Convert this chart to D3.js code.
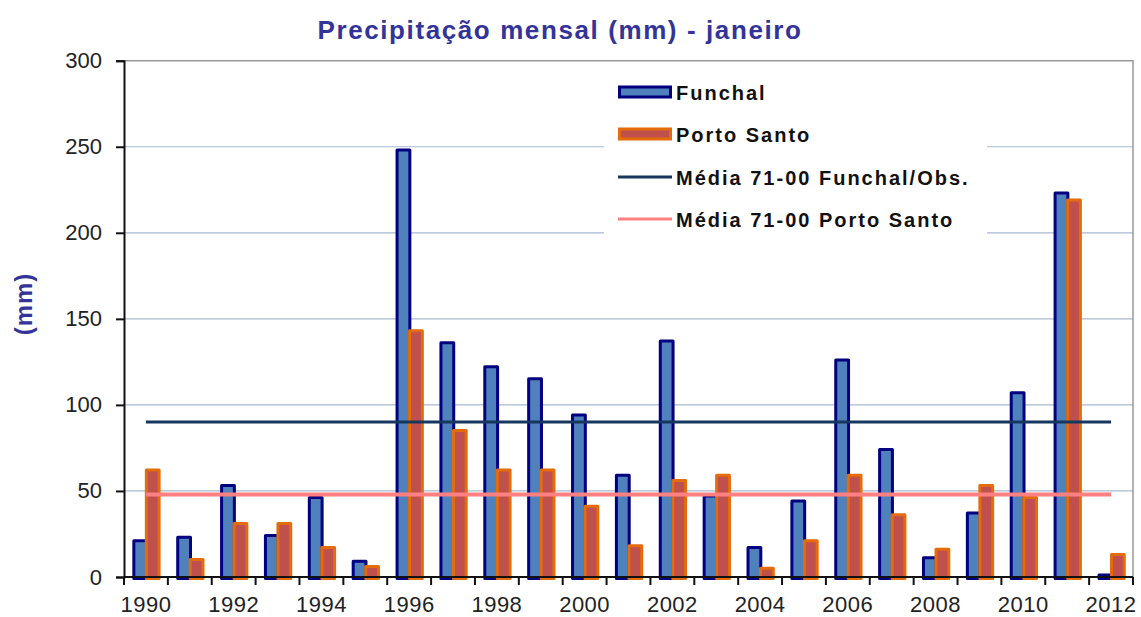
<!DOCTYPE html>
<html>
<head>
<meta charset="utf-8">
<script src="https://cdn.jsdelivr.net/npm/d3@7"></script>
<style>
  body { margin: 0; background: #fff; }
  svg { font-family: Arial, "Liberation Sans", sans-serif; }
</style>
</head>
<body>
<div id="chart"></div>
<script>
// Data
const years = d3.range(1990, 2013).map(String);
const funchal = [22, 24, 54, 25, 47, 10, 249, 137, 123, 116, 95, 60, 138, 48, 18, 45, 127, 75, 12, 38, 108, 224, 2];
const portoSanto = [63, 11, 32, 32, 18, 7, 144, 86, 63, 63, 42, 19, 57, 60, 6, 22, 60, 37, 17, 54, 47, 220, 14];
const meanFunchal = 90;
const meanPortoSanto = 48;
const yTicks = [0, 50, 100, 150, 200, 250, 300];
const legendLabels = ["Funchal", "Porto Santo", "Média 71-00 Funchal/Obs.", "Média 71-00 Porto Santo"];

const W = 1141, H = 617;
const plot = { left: 124, right: 1133, top: 60.7, bottom: 577 };

const svg = d3.select("#chart").append("svg")
    .attr("width", W)
    .attr("height", H);

const x = d3.scaleBand()
    .domain(years)
    .range([plot.left, plot.right])
    .padding(0);

const y = d3.scaleLinear()
    .domain([0, 300])
    .range([plot.bottom, plot.top]);

const bw = x.bandwidth();

// gridlines
svg.append("g")
    .selectAll("line")
    .data(yTicks.filter(d => d > 0 && d < 300))
    .enter()
    .append("line")
    .attr("x1", plot.left)
    .attr("x2", plot.right)
    .attr("y1", d => y(d))
    .attr("y2", d => y(d))
    .attr("stroke", "#a7b9d1")
    .attr("stroke-width", 1.2);

// top + right frame
svg.append("path")
    .attr("d", `M${plot.left},${y(300)}H${plot.right}V${plot.bottom}`)
    .attr("fill", "none")
    .attr("stroke", "#999")
    .attr("stroke-width", 1.5);

// legend box (hides gridlines behind it)
const legend = svg.append("g");
legend.append("rect")
    .attr("x", 604)
    .attr("y", 63)
    .attr("width", 383)
    .attr("height", 176)
    .attr("fill", "#fff");

// bars
const barW = 0.36 * bw;
const sw = 3;

svg.append("g")
    .selectAll("rect")
    .data(funchal)
    .enter()
    .append("rect")
    .attr("x", (d, i) => x(years[i]) + 0.19 * bw + sw / 2)
    .attr("width", barW - sw)
    .attr("y", d => y(d) + sw / 2)
    .attr("height", d => Math.max(0, y(0) - y(d)))
    .attr("fill", "#4f81bd")
    .attr("stroke", "#000080")
    .attr("stroke-width", sw)
    .attr("stroke-linejoin", "round");

svg.append("g")
    .selectAll("rect")
    .data(portoSanto)
    .enter()
    .append("rect")
    .attr("x", (d, i) => x(years[i]) + 0.475 * bw + sw / 2)
    .attr("width", barW - sw)
    .attr("y", d => y(d) + sw / 2)
    .attr("height", d => Math.max(0, y(0) - y(d)))
    .attr("fill", "#c0504d")
    .attr("stroke", "#e46c0a")
    .attr("stroke-width", sw)
    .attr("stroke-linejoin", "round");

// mean lines, from first to last category centre
const x0 = x(years[0]) + bw / 2;
const x1 = x(years[years.length - 1]) + bw / 2;

svg.append("line")
    .attr("x1", x0).attr("x2", x1)
    .attr("y1", y(meanPortoSanto)).attr("y2", y(meanPortoSanto))
    .attr("stroke", "#ff8080")
    .attr("stroke-width", 4);

svg.append("line")
    .attr("x1", x0).attr("x2", x1)
    .attr("y1", y(meanFunchal)).attr("y2", y(meanFunchal))
    .attr("stroke", "#17375e")
    .attr("stroke-width", 3);

// y axis
const yAxis = svg.append("g")
    .attr("transform", `translate(${plot.left},0)`)
    .call(d3.axisLeft(y).tickValues(yTicks).tickSize(8).tickPadding(14));
yAxis.select(".domain").attr("stroke", "#111").attr("stroke-width", 2);
yAxis.selectAll(".tick line").attr("stroke", "#111").attr("stroke-width", 2);
yAxis.selectAll(".tick text")
    .attr("font-size", 22)
    .attr("font-family", "Arial, 'Liberation Sans', sans-serif")
    .attr("fill", "#222");

// x axis: ticks on category boundaries, labels on every other year
const xAxis = svg.append("g")
    .attr("transform", `translate(0,${plot.bottom})`);
xAxis.append("line")
    .attr("x1", plot.left).attr("x2", plot.right)
    .attr("stroke", "#111").attr("stroke-width", 2);
xAxis.selectAll(".tk")
    .data(years.concat(["end"]))
    .enter()
    .append("line")
    .attr("x1", (d, i) => plot.left + i * bw)
    .attr("x2", (d, i) => plot.left + i * bw)
    .attr("y1", 0).attr("y2", 8)
    .attr("stroke", "#111").attr("stroke-width", 2);
xAxis.selectAll("text")
    .data(years.filter((d, i) => i % 2 === 0))
    .enter()
    .append("text")
    .attr("x", d => x(d) + bw / 2)
    .attr("y", 35)
    .attr("text-anchor", "middle")
    .attr("font-size", 22)
    .attr("letter-spacing", 0.5)
    .attr("fill", "#222")
    .text(d => d);

// title
svg.append("text")
    .attr("x", 560)
    .attr("y", 39)
    .attr("text-anchor", "middle")
    .attr("font-size", 26)
    .attr("font-weight", "bold")
    .attr("letter-spacing", 1.6)
    .attr("fill", "#333399")
    .text("Precipitação mensal (mm) - janeiro");

// y label
svg.append("text")
    .attr("transform", "translate(32,304) rotate(-90)")
    .attr("text-anchor", "middle")
    .attr("font-size", 24)
    .attr("font-weight", "bold")
    .attr("letter-spacing", 1)
    .attr("fill", "#333399")
    .text("(mm)");

// legend entries
const rowY = [92, 134, 177, 219];
const swatchX = 618, swatchW = 54;

legend.append("rect")
    .attr("x", swatchX + 1.5).attr("y", rowY[0] - 5)
    .attr("width", swatchW - 3).attr("height", 10)
    .attr("fill", "#4f81bd").attr("stroke", "#000080").attr("stroke-width", 3);
legend.append("rect")
    .attr("x", swatchX + 1.5).attr("y", rowY[1] - 5)
    .attr("width", swatchW - 3).attr("height", 10)
    .attr("fill", "#c0504d").attr("stroke", "#e46c0a").attr("stroke-width", 3);
legend.append("line")
    .attr("x1", swatchX).attr("x2", swatchX + swatchW)
    .attr("y1", rowY[2]).attr("y2", rowY[2])
    .attr("stroke", "#17375e").attr("stroke-width", 3);
legend.append("line")
    .attr("x1", swatchX).attr("x2", swatchX + swatchW)
    .attr("y1", rowY[3]).attr("y2", rowY[3])
    .attr("stroke", "#ff8080").attr("stroke-width", 3);

legend.selectAll("text")
    .data(legendLabels)
    .enter()
    .append("text")
    .attr("x", 676)
    .attr("y", (d, i) => rowY[i] + 7.5)
    .attr("font-size", 20)
    .attr("font-weight", "bold")
    .attr("letter-spacing", 2)
    .attr("fill", "#111")
    .text(d => d);
</script>
</body>
</html>
